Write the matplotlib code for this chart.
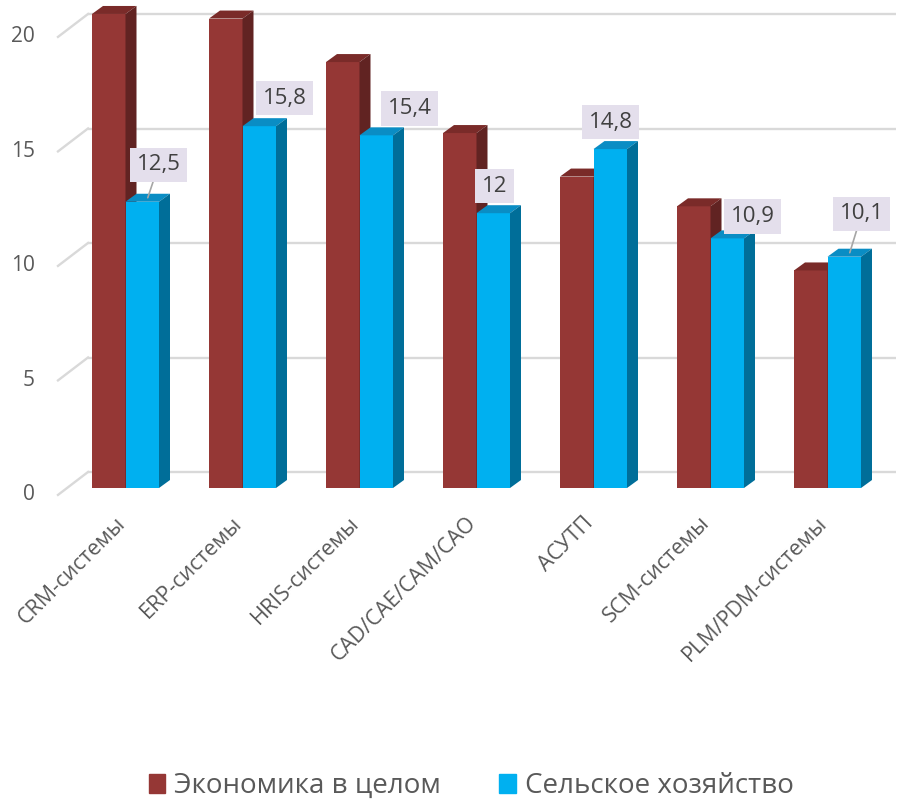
import matplotlib.pyplot as plt
from matplotlib.patches import Polygon, Patch

plt.rcParams['font.family'] = ['Open Sans', 'DejaVu Sans']

categories = ['CRM-системы', 'ERP-системы', 'HRIS-системы', 'CAD/CAE/CAM/CAO',
              'АСУТП', 'SCM-системы', 'PLM/PDM-системы']
economy = [20.7, 20.5, 18.6, 15.5, 13.6, 12.3, 9.5]
agri = [12.5, 15.8, 15.4, 12.0, 14.8, 10.9, 10.1]
agri_labels = ['12,5', '15,8', '15,4', '12', '14,8', '10,9', '10,1']
yticks = [0, 5, 10, 15, 20]
series_names = ['Экономика в целом', 'Сельское хозяйство']

# label box offsets (pixels from the bar top) and whether a leader line is drawn
label_offsets = [(11, 33), (20, 24), (28, 23), (-4, 23), (-5, 23), (20, 18), (12, 39)]
leaders = [True, False, False, False, False, False, True]

# colours: front, top, side
red = ('#953735', '#7a2b29', '#612322')
blue = ('#00b0f0', '#0a8dc4', '#006e99')
grid_c = '#d9d9d9'
text_c = '#595959'

# pixel scale of the plot (x: one category per 117 px, y: 22.9 px per unit)
PX, PY = 117.0, 22.9
W = 33.5 / PX          # bar width
DX, DY = 11 / PX, 8 / PY   # bar depth
WALL = 16 / PY         # back wall offset

fig = plt.figure(figsize=(9.01, 8.01), dpi=100)
ax = fig.add_axes([0, 0, 1, 1])
ax.set_xlim(-125.5 / PX, (901 - 125.5) / PX)
ax.set_ylim(-(801 - 488) / PY, 488 / PY)
ax.axis('off')

# back wall grid + diagonal floor lines and tick labels
x_wall = (88 - 125.5) / PX
x_diag = (58 - 125.5) / PX
x_right = (896 - 125.5) / PX
for t in yticks:
    ax.plot([x_wall, x_right], [t + WALL, t + WALL], color=grid_c, lw=1.7, zorder=1,
            solid_capstyle='butt')
    ax.plot([x_diag, x_wall], [t + WALL - 1.0, t + WALL], color=grid_c, lw=1.7, zorder=1)
    ax.text((35 - 125.5) / PX, t + WALL - 1.0, str(t), ha='right', va='center',
            fontsize=15, color=text_c)


def bar3d(x, h, cols, z):
    front, top, side = cols
    ax.bar(x, h, width=W, align='edge', color=front, zorder=z, linewidth=0)
    ax.add_patch(Polygon([(x, h), (x + DX, h + DY), (x + W + DX, h + DY), (x + W, h)],
                         closed=True, facecolor=top, edgecolor='none', zorder=z))
    ax.add_patch(Polygon([(x + W, 0), (x + W, h), (x + W + DX, h + DY), (x + W + DX, DY)],
                         closed=True, facecolor=side, edgecolor='none', zorder=z))


for i in range(len(categories)):
    bar3d(i - W, economy[i], red, 2 + 2 * i)
    bar3d(i, agri[i], blue, 3 + 2 * i)

    # data label above the blue bar
    xb = i + W / 2 + DX / 2
    yb = agri[i] + DY / 2
    ox, oy = label_offsets[i]
    ax.annotate(agri_labels[i], xy=(xb, yb), xytext=(ox, oy), textcoords='offset pixels',
                ha='center', va='center', fontsize=16, color='#404040', zorder=30,
                bbox=dict(boxstyle='square,pad=0.3', fc='#e4dfec', ec='none'),
                arrowprops=dict(arrowstyle='-', color='#a6a6a6', lw=1.2,
                                shrinkA=0, shrinkB=0) if leaders[i] else None)

    # category label
    ax.text(i - 0.03, -1.4, categories[i], rotation=45, rotation_mode='anchor',
            ha='right', va='center', fontsize=15.5, color=text_c)

handles = [Patch(color=red[0]), Patch(color=blue[0])]
ax.legend(handles, series_names, loc='center', bbox_to_anchor=(0.523, 15 / 801),
          ncol=2, frameon=False, fontsize=20, handlelength=0.6, handleheight=0.65,
          handletextpad=0.32, columnspacing=2.1, labelcolor=text_c)

fig.savefig('out.png', dpi=100)
